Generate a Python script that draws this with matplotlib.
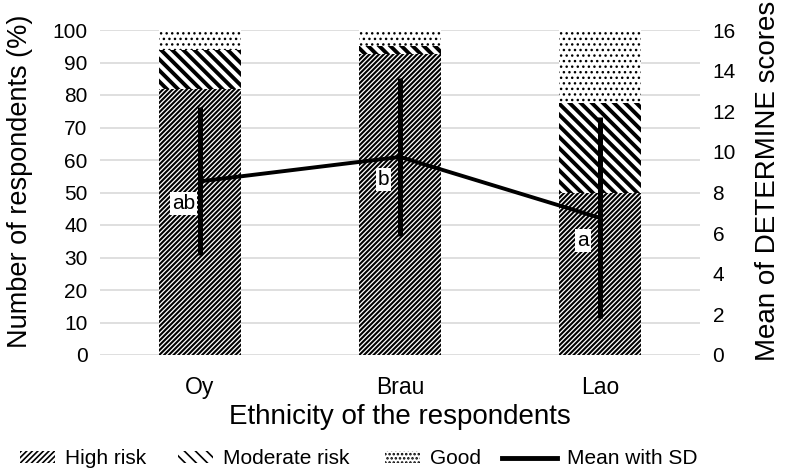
import numpy as np
import matplotlib
matplotlib.use("Agg")
import matplotlib.pyplot as plt
from matplotlib.patches import Patch
from matplotlib.lines import Line2D

plt.rcParams['font.family'] = ['Liberation Sans', 'DejaVu Sans']

# data
groups = ["Oy", "Brau", "Lao"]
high_risk = [82, 92.5, 50]
moderate_risk = [12, 2.5, 27.5]
good = [6, 5, 22.5]
mean_scores = [8.55, 9.75, 6.75]
sd_scores = [3.65, 3.9, 4.95]
sig_letters = ["ab", "b", "a"]

HATCH_HIGH = "///////"
HATCH_MOD = "\\\\\\"
HATCH_GOOD = "..."


def hatch_lw(patches, lw):
    for p in patches:
        if hasattr(p, "set_hatch_linewidth"):
            p.set_hatch_linewidth(lw)


fig = plt.figure(figsize=(7.86, 4.72), dpi=100)
ax = fig.add_axes([100 / 786, 1 - 355 / 472, 600 / 786, 325 / 472])
x = np.arange(len(groups))
w = 0.41

plt.rcParams['hatch.linewidth'] = 1.5
b1 = ax.bar(x, high_risk, w, color="white", edgecolor="black", linewidth=0,
            hatch=HATCH_HIGH, zorder=2)
hatch_lw(b1, 1.5)
plt.rcParams['hatch.linewidth'] = 2.8
bottom2 = np.array(high_risk)
b2 = ax.bar(x, moderate_risk, w, bottom=bottom2, color="white", edgecolor="black",
            linewidth=0, hatch=HATCH_MOD, zorder=2)
hatch_lw(b2, 2.8)
plt.rcParams['hatch.linewidth'] = 1.0
bottom3 = bottom2 + np.array(moderate_risk)
b3 = ax.bar(x, good, w, bottom=bottom3, color="white", edgecolor="black",
            linewidth=0, hatch=HATCH_GOOD, zorder=2)
hatch_lw(b3, 1.0)

ax.set_xlim(-0.5, 2.5)
ax.set_ylim(0, 100)
ax.set_yticks(np.arange(0, 101, 10))
ax.grid(axis="y", color="#d9d9d9", linewidth=1.2, zorder=0)
ax.set_axisbelow(True)
for s in ax.spines.values():
    s.set_visible(False)
ax.tick_params(axis="y", length=0, labelsize=15, pad=9)
ax.tick_params(axis="x", length=0, labelsize=16.5, pad=15)
ax.set_xticks(x)
ax.set_xticklabels(groups)
ax.set_ylabel("Number of respondents (%)", fontsize=19.5)
ax.yaxis.set_label_coords(-0.112, 0.535)
ax.set_xlabel("Ethnicity of the respondents", fontsize=20, labelpad=4)

ax2 = ax.twinx()
ax2.set_ylim(0, 16)
ax2.set_yticks(np.arange(0, 17, 2))
for s in ax2.spines.values():
    s.set_visible(False)
ax2.tick_params(axis="y", length=0, labelsize=15, pad=9)
ax2.set_ylabel("Mean of DETERMINE scores", fontsize=20)
ax2.yaxis.set_label_coords(1.092, 0.535)

ax2.errorbar(x, mean_scores, yerr=sd_scores, color="black", linewidth=2.8,
             elinewidth=3.6, capsize=0, zorder=5)
for xi, yi, t in zip(x, mean_scores, sig_letters):
    ax2.annotate(t, (xi, yi), xytext=(-12, -16), textcoords="offset points",
                 ha="center", va="center", fontsize=15,
                 bbox=dict(boxstyle="square,pad=0.1", fc="white", ec="none"),
                 zorder=6)

# legend: one entry per legend so each sits where the reference has it
plt.rcParams['hatch.linewidth'] = 1.2
h_high = Patch(facecolor="white", edgecolor="black", linewidth=0, hatch="//////")
h_mod = Patch(facecolor="white", edgecolor="black", linewidth=0, hatch="\\\\\\")
h_good = Patch(facecolor="white", edgecolor="black", linewidth=0, hatch="....")
h_line = Line2D([0], [0], color="black", linewidth=3.5)
hatch_lw([h_high], 1.2)
hatch_lw([h_mod], 2.2)
hatch_lw([h_good], 0.8)

entries = [
    (h_high, "High risk", 20, 1.7),
    (h_mod, "Moderate risk", 178, 1.7),
    (h_good, "Good", 385, 1.7),
    (h_line, "Mean with SD", 502, 2.65),
]
leg_y = 1 - 459 / 472
for h, lab, px, hl in entries:
    fig.legend([h], [lab], loc="center left", bbox_to_anchor=(px / 786, leg_y),
               frameon=False, fontsize=15, handlelength=hl, handleheight=0.45,
               handletextpad=0.45, borderpad=0, borderaxespad=0)

fig.savefig("out.png", dpi=100)
